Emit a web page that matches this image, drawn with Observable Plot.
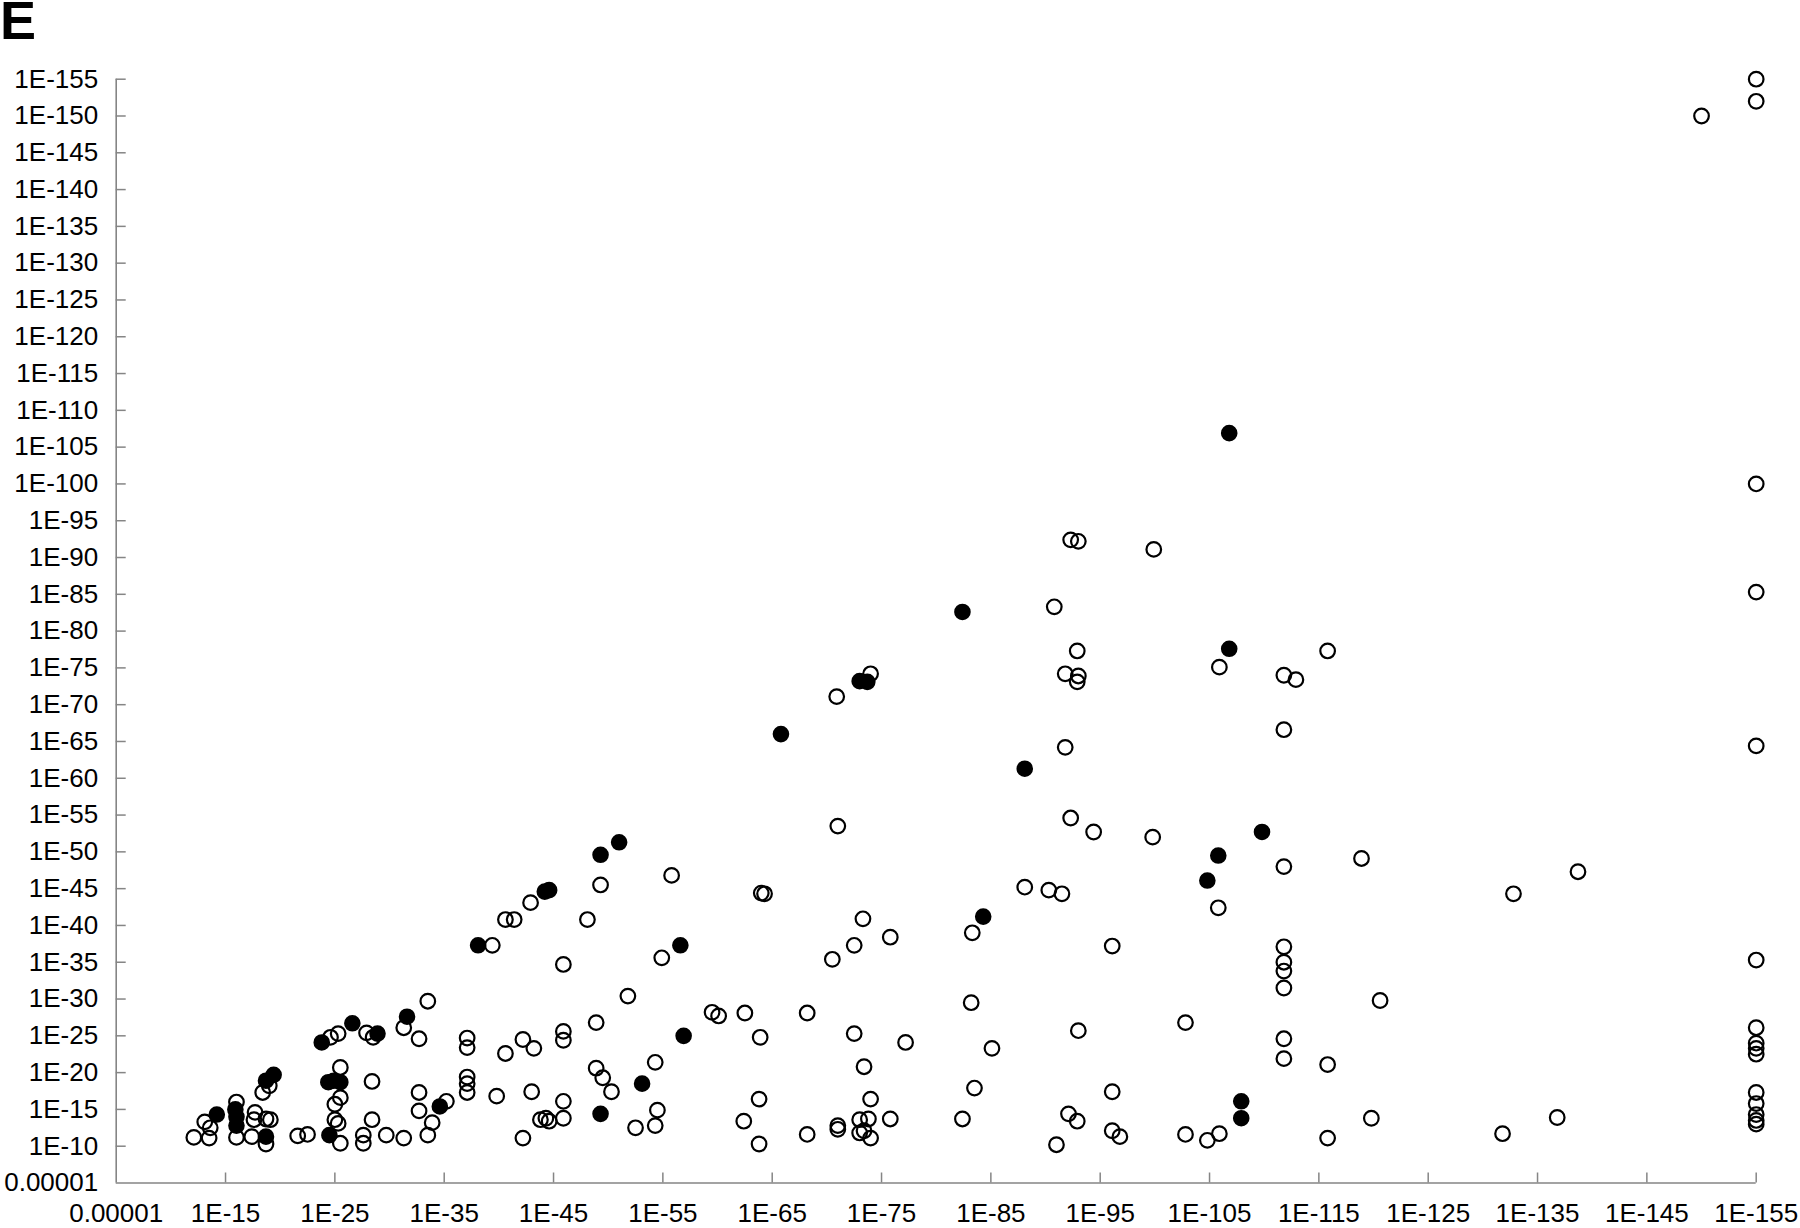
<!DOCTYPE html>
<html>
<head>
<meta charset="utf-8">
<script src="https://cdn.jsdelivr.net/npm/d3@7"></script>
<script src="https://cdn.jsdelivr.net/npm/@observablehq/plot@0.6"></script>
<style>
html, body { margin: 0; padding: 0; background: #ffffff; }
#chart { position: relative; width: 1800px; height: 1228px; }
#panel { position: absolute; left: 0px; top: 0px; height: 40px; overflow: visible; font: bold 54px "Liberation Sans", Arial, Helvetica, sans-serif; line-height: 40px; color: #000; }
</style>
</head>
<body>
<div id="chart"><div id="panel">E</div></div>
<script>
// Values are exponents: a value v stands for 1E-v (5 = 0.00001)
const xTickVals = [5, 15, 25, 35, 45, 55, 65, 75, 85, 95, 105, 115, 125, 135, 145, 155];
const xTickLabels = ["0.00001", "1E-15", "1E-25", "1E-35", "1E-45", "1E-55", "1E-65", "1E-75", "1E-85", "1E-95", "1E-105", "1E-115", "1E-125", "1E-135", "1E-145", "1E-155"];
const yTickVals = [5, 10, 15, 20, 25, 30, 35, 40, 45, 50, 55, 60, 65, 70, 75, 80, 85, 90, 95, 100, 105, 110, 115, 120, 125, 130, 135, 140, 145, 150, 155];
const yTickLabels = ["0.00001", "1E-10", "1E-15", "1E-20", "1E-25", "1E-30", "1E-35", "1E-40", "1E-45", "1E-50", "1E-55", "1E-60", "1E-65", "1E-70", "1E-75", "1E-80", "1E-85", "1E-90", "1E-95", "1E-100", "1E-105", "1E-110", "1E-115", "1E-120", "1E-125", "1E-130", "1E-135", "1E-140", "1E-145", "1E-150", "1E-155"];

// Open circles
const openX = [
  150, 155, 155, 155, 155, 155, 155, 155, 155, 155, 155, 155, 155, 155, 155, 155,
  115.8, 111.8, 112.9, 111.8,
  92.3, 93.0, 99.9, 90.8, 92.9, 105.9, 91.8, 93.0, 92.9, 74.0, 70.9, 91.8,
  92.3, 94.4, 99.8, 111.8, 118.9, 105.8, 88.1, 90.3, 91.5, 83.3, 75.8, 96.1, 111.8, 111.8, 111.8, 111.8,
  120.6, 83.2, 102.8, 93.0, 77.2, 85.1, 111.8, 111.8, 115.8, 83.5, 96.1, 75.8, 82.4, 92.1, 92.9, 96.1,
  96.8, 91.0, 102.8, 104.8, 105.9, 115.8, 119.8,
  132.8, 138.7, 131.8, 136.8,
  71.0, 55.8, 64.0, 64.3, 49.3, 42.9, 40.6, 41.4, 48.1, 39.4, 45.9, 54.9, 73.3, 72.5, 70.5, 51.8,
  33.5, 31.3, 32.7, 59.5, 60.1, 62.5, 68.2, 37.1, 37.1, 40.6, 42.2, 43.2, 45.9, 45.9, 48.9, 63.9,
  72.5, 73.4, 54.3, 48.9, 49.5, 50.3, 32.7, 35.2, 37.1, 37.1, 37.1, 39.8, 43.0, 45.9, 32.7, 33.9,
  33.5, 31.3, 42.2, 43.8, 44.3, 44.6, 45.9, 52.5, 54.3, 54.5, 62.4, 63.8, 63.8, 68.2, 71.0, 71.0,
  73.0, 73.8, 73.0, 73.4, 74.0, 74.0,
  25.3, 24.6, 27.9, 28.5, 19.0, 18.4, 25.5, 28.4, 25.5, 25.0, 25.0, 25.3, 25.5, 28.4, 27.6, 27.6, 29.7,
  12.1, 13.5, 13.1, 13.6, 16.0, 16.0, 17.7, 17.6, 17.4, 18.7, 19.1, 18.7, 21.6, 22.5
];
const openY = [
  150, 155, 152, 100, 85.3, 64.4, 35.3, 26.1, 24.0, 23.3, 22.5, 17.3, 15.8, 14.3, 13.5, 13.0,
  77.3, 74.0, 73.4, 66.6,
  92.4, 92.2, 91.1, 83.3, 77.3, 75.1, 74.2, 73.9, 73.1, 74.2, 71.1, 64.2,
  54.6, 52.7, 52.0, 48.0, 49.1, 42.4, 45.2, 44.8, 44.3, 39.0, 38.4, 37.2, 37.1, 35.0, 33.8, 31.5,
  29.8, 29.5, 26.8, 25.7, 24.1, 23.3, 24.6, 21.9, 21.1, 17.9, 17.4, 13.7, 13.7, 14.4, 13.4, 12.1,
  11.3, 10.2, 11.6, 10.8, 11.7, 11.1, 13.8,
  44.3, 47.3, 11.7, 13.9,
  53.5, 46.8, 44.4, 44.3, 45.5, 43.1, 40.8, 40.8, 40.8, 37.3, 34.7, 35.6, 40.9, 37.3, 35.4, 30.4,
  29.7, 26.1, 24.6, 28.2, 27.7, 28.1, 28.1, 24.7, 23.4, 22.6, 24.5, 23.3, 25.6, 24.4, 26.8, 24.8,
  25.3, 20.8, 21.4, 20.6, 19.3, 17.4, 17.3, 16.1, 19.4, 18.5, 17.3, 16.8, 17.4, 16.1, 14.8, 13.2,
  11.5, 11.1, 11.1, 13.6, 13.8, 13.4, 13.8, 12.5, 12.8, 14.9, 13.4, 16.4, 10.3, 11.6, 12.8, 12.3,
  13.6, 13.7, 11.8, 12.1, 11.1, 16.4,
  25.3, 24.8, 25.4, 24.8, 18.2, 17.3, 20.7, 18.8, 16.6, 15.7, 13.6, 13.1, 10.4, 13.6, 11.5, 10.4, 11.5,
  11.2, 11.1, 13.3, 12.5, 16.0, 11.2, 14.6, 13.6, 11.3, 13.7, 13.6, 10.3, 11.4, 11.6
];

// Filled circles
const filledX = [
  106.8, 82.4, 106.8, 73.0, 73.7, 65.8, 88.1, 109.8, 105.8, 104.8, 84.3, 107.9, 107.9,
  51.0, 49.3, 44.2, 44.6, 38.1, 56.6, 31.6, 56.9, 53.1, 34.6, 49.3,
  26.6, 23.8, 28.9, 19.4, 18.7, 24.9, 24.4, 25.5, 24.5,
  14.2, 15.9, 16.0, 16.0, 18.7
];
const filledY = [
  106.9, 82.6, 77.6, 73.2, 73.1, 66.0, 61.3, 52.7, 49.5, 46.1, 41.2, 16.1, 13.8,
  51.3, 49.6, 44.6, 44.8, 37.3, 37.3, 27.6, 25.0, 18.5, 15.4, 14.4,
  26.7, 24.1, 25.3, 19.7, 18.9, 18.9, 18.7, 18.7, 11.5,
  14.3, 15.0, 14.0, 12.8, 11.3
];

const openData = openX.map((x, i) => ({x, y: openY[i]}));
const filledData = filledX.map((x, i) => ({x, y: filledY[i]}));

const W = 1800, H = 1228;
const mTop = 78.7, mBottom = 45.5, mLeft = 115.7, mRight = 44.3;
const plotW = W - mLeft - mRight;
const plotH = H - mTop - mBottom;
const axisGray = "#858585";
const font = '"Liberation Sans", Arial, Helvetica, sans-serif';

const chart = Plot.plot({
  width: W,
  height: H,
  marginTop: mTop,
  marginBottom: mBottom,
  marginLeft: mLeft,
  marginRight: mRight,
  style: {fontFamily: font, fontSize: "26px", background: "#ffffff", color: "#000000"},
  x: {
    domain: [5, 155],
    ticks: xTickVals,
    tickFormat: d => xTickLabels[xTickVals.indexOf(d)],
    tickSize: 0,
    tickPadding: 21,
    label: null
  },
  y: {
    domain: [5, 155],
    ticks: yTickVals,
    tickFormat: d => yTickLabels[yTickVals.indexOf(d)],
    tickSize: 0,
    tickPadding: 18,
    label: null
  },
  marks: [
    Plot.tickX(xTickVals.slice(1), {x: d => d, stroke: axisGray, strokeWidth: 1.5, insetTop: plotH - 10}),
    Plot.tickY(yTickVals.slice(1), {y: d => d, stroke: axisGray, strokeWidth: 1.5, insetRight: plotW - 10}),
    Plot.ruleX([5], {stroke: axisGray, strokeWidth: 1.6}),
    Plot.ruleY([5], {stroke: axisGray, strokeWidth: 1.6}),
    Plot.dot(filledData, {x: "x", y: "y", r: 7.4, fill: "#000000", stroke: "#000000", strokeWidth: 1.8}),
    Plot.dot(openData, {x: "x", y: "y", r: 7.3, fill: "none", stroke: "#000000", strokeWidth: 2.2})
  ]
});

const holder = document.getElementById("chart");
holder.insertBefore(chart, holder.firstChild);
</script>
</body>
</html>
